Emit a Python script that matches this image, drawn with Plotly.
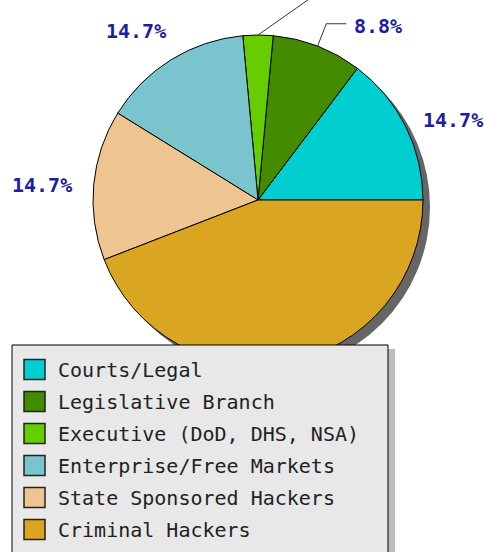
import math
import plotly.graph_objects as go

# ---- data ----
categories = ["Courts/Legal", "Legislative Branch", "Executive (DoD, DHS, NSA)",
              "Enterprise/Free Markets", "State Sponsored Hackers", "Criminal Hackers"]
values = [5, 3, 1, 5, 5, 15]
colors = ["#00CED1", "#458B00", "#66CD00", "#7AC5CD", "#EEC591", "#DAA520"]

# ---- geometry (pixels) ----
W, H = 484, 552
cx, cy, R = 258, 200, 165
SHADOW = 7
FONT = "DejaVu Sans Mono"
LABEL_COLOR = "#1e1ea0"


def px(x):
    return x / W


def py(y):
    return 1 - y / H


total = sum(values)
# plotly's counterclockwise pies end the first slice at `rotation`;
# make the first slice start at 3 o'clock
rotation = 90 - 360 * values[0] / total

fig = go.Figure()

# shadow of the pie
fig.add_trace(go.Pie(
    values=[1], labels=["shadow"], marker=dict(colors=["#666666"], line=dict(width=0)),
    textinfo="none", hoverinfo="skip", sort=False, showlegend=False,
    domain=dict(x=[px(cx - R + SHADOW), px(cx + R + SHADOW)],
                y=[py(cy + R + SHADOW), py(cy - R + SHADOW)]),
))

# the pie
fig.add_trace(go.Pie(
    values=values, labels=categories,
    marker=dict(colors=colors, line=dict(color="black", width=1)),
    textinfo="none", sort=False, direction="counterclockwise", rotation=rotation,
    showlegend=False,
    domain=dict(x=[px(cx - R), px(cx + R)], y=[py(cy + R), py(cy - R)]),
))

shapes = []
annotations = []
label_font = dict(family=FONT, size=20, color=LABEL_COLOR, weight="bold")

cum = 0
for i, v in enumerate(values):
    frac = v / total
    mid = (cum + v / 2) / total * 2 * math.pi
    cum += v
    label = f"{frac * 100:.1f}%"
    c, s = math.cos(mid), math.sin(mid)
    if s < -0.5:
        continue  # label hidden under legend
    if frac < 0.05:
        # leader line only: its label lies above the visible area
        x0, y0 = cx + R * c, cy - R * s
        x1, y1 = x0 + 64, y0 - 45
        shapes.append(dict(type="line", xref="paper", yref="paper",
                           x0=px(x0), y0=py(y0), x1=px(x1), y1=py(y1),
                           line=dict(color="#333333", width=1), layer="above"))
    elif frac < 0.1:
        x0, y0 = cx + R * c, cy - R * s
        x1, y1 = cx + (R + 24) * c, cy - (R + 24) * s
        x2 = x1 + (20 if c >= 0 else -20)
        for a, b, d, e in [(x0, y0, x1, y1), (x1, y1, x2, y1)]:
            shapes.append(dict(type="line", xref="paper", yref="paper",
                               x0=px(a), y0=py(b), x1=px(d), y1=py(e),
                               line=dict(color="#333333", width=1), layer="above"))
        annotations.append(dict(x=px(x2 + (6 if c >= 0 else -6)), y=py(y1 + 2),
                                xref="paper", yref="paper",
                                text=label, showarrow=False,
                                xanchor="left" if c >= 0 else "right", yanchor="middle",
                                font=label_font))
    else:
        lx, ly = cx + (R + 20) * c, cy - (R + 20) * s
        if c >= 0:
            dx = -3
        elif s > 0.6:
            dx = 7
        else:
            dx = 0
        annotations.append(dict(x=px(lx + dx), y=py(ly + 2),
                                xref="paper", yref="paper",
                                text=label, showarrow=False,
                                xanchor="left" if c >= 0 else "right",
                                yanchor="bottom" if s > 0.6 else "middle",
                                font=label_font))

# ---- custom legend ----
LX0, LX1, LY0 = 12, 388, 345
shapes.append(dict(type="rect", xref="paper", yref="paper",
                   x0=px(LX0 + 7), x1=px(LX1 + 7), y0=py(LY0 + 4), y1=py(H + 40),
                   fillcolor="#bdbdbd", line=dict(width=0), layer="above"))
shapes.append(dict(type="rect", xref="paper", yref="paper",
                   x0=px(LX0), x1=px(LX1), y0=py(LY0), y1=py(H + 40),
                   fillcolor="#e8e8e8", line=dict(color="black", width=1), layer="above"))
for i, (name, col) in enumerate(zip(categories, colors)):
    yc = 369.5 + 32 * i
    shapes.append(dict(type="rect", xref="paper", yref="paper",
                       x0=px(24), x1=px(45), y0=py(yc + 10), y1=py(yc - 10),
                       fillcolor=col, line=dict(color="#222222", width=1.5), layer="above"))
    annotations.append(dict(x=px(56), y=py(yc), xref="paper", yref="paper",
                            text=name, showarrow=False, xanchor="left", yanchor="middle",
                            font=dict(family=FONT, size=20, color="#222222")))

fig.update_layout(
    width=W, height=H,
    margin=dict(l=0, r=0, t=0, b=0),
    paper_bgcolor="white", plot_bgcolor="white",
    shapes=shapes, annotations=annotations,
    showlegend=False,
)

fig.write_html(
    "out.html",
    config={"displayModeBar": False},
    post_script="document.body.style.margin='0';document.body.style.overflow='hidden';",
)
